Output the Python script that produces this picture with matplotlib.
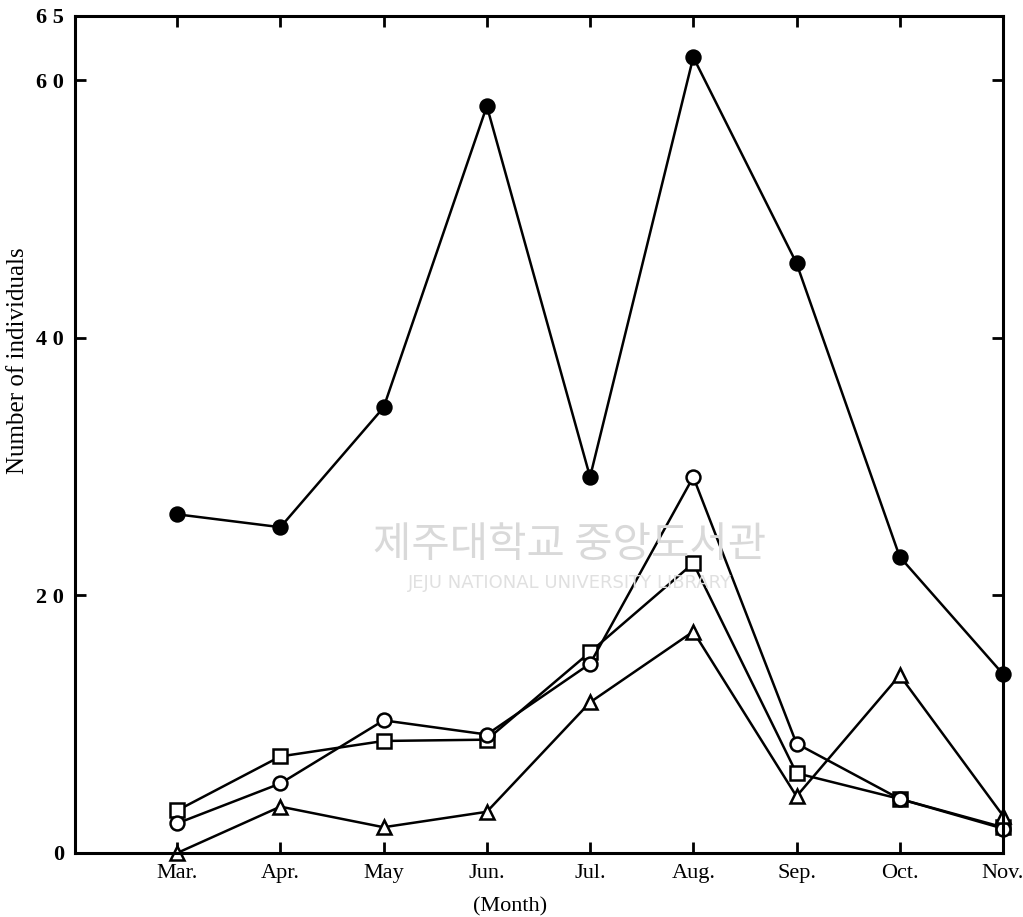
import matplotlib.pyplot as plt

months = ['Mar.', 'Apr.', 'May', 'Jun.', 'Jul.', 'Aug.', 'Sep.', 'Oct.', 'Nov.']
filled_circle = [26.3, 25.3, 34.6, 58.0, 29.2, 61.8, 45.8, 23.0, 13.9]
open_circle = [2.3, 5.4, 10.3, 9.2, 14.7, 29.2, 8.5, 4.2, 1.9]
open_square = [3.3, 7.5, 8.7, 8.8, 15.6, 22.5, 6.2, 4.2, 2.0]
open_triangle = [0.0, 3.6, 2.0, 3.2, 11.7, 17.2, 4.4, 13.8, 2.9]
ytick_vals = [0, 20, 40, 60, 65]
ytick_text = ['0', '2 0', '4 0', '6 0', '6 5']

x = list(range(len(months)))

fig = plt.figure(figsize=(10.23, 9.17), dpi=100)
ax = fig.add_axes([0.0733, 0.0698, 0.9071, 0.9128])

# watermark
fig.text(0.557, 0.405, '제주대학교 중앙도서관', fontsize=30, color='#d9d9d9',
         family=['Noto Sans CJK KR', 'DejaVu Sans'], ha='center', va='center', zorder=0)
fig.text(0.557, 0.364, 'JEJU NATIONAL UNIVERSITY LIBRARY', fontsize=13, color='#e0e0e0',
         family='DejaVu Sans', ha='center', va='center', zorder=0)

kw = dict(color='black', lw=1.8, markersize=10, markeredgewidth=1.8, clip_on=False)
ax.plot(x, filled_circle, marker='o', markerfacecolor='black', **kw)
ax.plot(x, open_square, marker='s', markerfacecolor='white', **kw)
ax.plot(x, open_circle, marker='o', markerfacecolor='white', **kw)
ax.plot(x, open_triangle, marker='^', markerfacecolor='white', **kw)

ax.set_xlim(-0.99, 8)
ax.set_ylim(0, 65)
ax.set_xticks(x)
ax.set_xticklabels(months, family='Liberation Serif', fontsize=16)
ax.set_yticks(ytick_vals)
ax.set_yticklabels(ytick_text, family='Liberation Serif', fontsize=16, fontweight='bold')
ax.tick_params(direction='in', length=8, width=2, top=True, right=True,
               labelright=False, pad=8)
for s in ax.spines.values():
    s.set_linewidth(2.2)

fig.text(0.499, 0.011, '(Month)', family='Liberation Serif', fontsize=16,
         ha='center', va='center')
fig.text(0.018, 0.607, 'Number of individuals', rotation=90, family='Liberation Serif',
         fontsize=18, ha='center', va='center')

fig.savefig('out.png', dpi=100)
